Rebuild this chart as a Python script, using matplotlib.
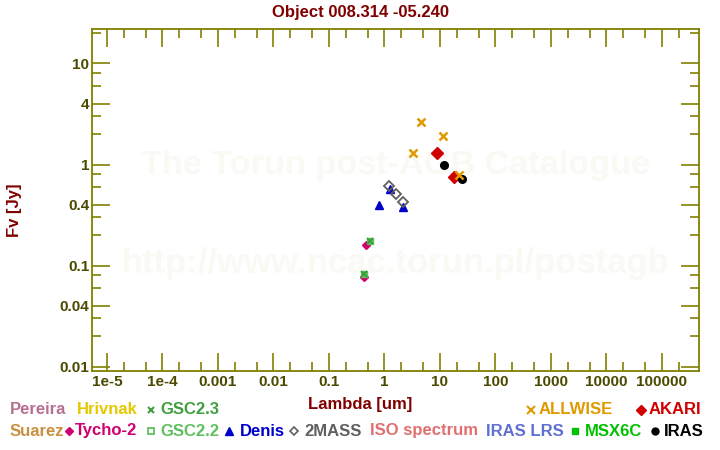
import numpy as np
import matplotlib
matplotlib.use("Agg")
import matplotlib.pyplot as plt
from matplotlib.ticker import FixedLocator, NullFormatter

plt.rcParams["font.family"] = ["Liberation Sans", "DejaVu Sans"]
plt.rcParams["font.weight"] = "bold"

# ---------------------------------------------------------------------------
# photometry (lambda in um, flux in Jy)
# ---------------------------------------------------------------------------

tycho_wl = [0.42, 0.47]
tycho_f = [0.077, 0.161]

gsc22_wl = [0.43, 0.55]
gsc22_f = [0.083, 0.175]

gsc23_wl = [0.43, 0.55]
gsc23_f = [0.083, 0.175]

denis_wl = [0.785, 1.24, 2.13]
denis_f = [0.40, 0.57, 0.38]

twomass_wl = [1.20, 1.64, 2.15]
twomass_f = [0.615, 0.509, 0.43]

allwise_wl = [3.27, 4.55, 11.3, 22.0]
allwise_f = [1.30, 2.63, 1.91, 0.785]

akari_wl = [8.8, 17.7]
akari_f = [1.30, 0.75]

iras_wl = [11.8, 24.9]
iras_f = [0.986, 0.716]

x_major = [1e-5, 1e-4, 1e-3, 1e-2, 0.1, 1, 10, 100, 1000, 1e4, 1e5]
x_labels = ["1e-5", "1e-4", "0.001", "0.01", "0.1", "1", "10", "100",
            "1000", "10000", "100000"]
y_major = [0.01, 0.04, 0.1, 0.4, 1, 4, 10]
y_labels = ["0.01", "0.04", "0.1", "0.4", "1", "4", "10"]
y_minor = [0.02, 0.03, 0.06, 0.08, 0.2, 0.3, 0.6, 0.8, 2, 3, 6, 8, 20]

AXIS_COLOR = "#808000"
TICKLABEL_COLOR = "#4a4a00"
LABEL_COLOR = "#800000"
WATERMARK = "#faf9f4"

# ---------------------------------------------------------------------------
# figure
# ---------------------------------------------------------------------------

fig = plt.figure(figsize=(7.2, 4.5), dpi=100)
ax = fig.add_axes([92 / 720, 1 - 371 / 450, 607 / 720, 342 / 450])

ax.set_xscale("log")
ax.set_yscale("log")
ax.set_xlim(10 ** -5.27, 10 ** 5.667)
ax.set_ylim(10 ** -2.043, 10 ** 1.341)

# watermark
ax.text(0.5, 0.60, "The Torun post-AGB Catalogue", transform=ax.transAxes,
        ha="center", va="center", fontsize=24.7, color=WATERMARK, zorder=0)
ax.text(0.5, 0.315, "http://www.ncac.torun.pl/postagb", transform=ax.transAxes,
        ha="center", va="center", fontsize=25, color=WATERMARK, zorder=0)

ax.plot(gsc22_wl, gsc22_f, "s", ms=5, mfc="#5cc05c", mec="#5cc05c", zorder=3)
ax.plot(gsc23_wl, gsc23_f, "x", ms=4, mec="#3a9a3a", mew=1.2, zorder=4)
ax.plot(tycho_wl, tycho_f, "D", ms=4, color="#d0006f", zorder=2)
ax.plot(denis_wl, denis_f, "^", ms=6, color="#0000cc", zorder=3)
ax.plot(twomass_wl, twomass_f, "D", ms=5, mfc="none", mec="#606060", mew=1.3, zorder=4)
ax.plot(allwise_wl, allwise_f, "x", ms=6, mec="#e09a00", mew=1.8, zorder=5)
ax.plot(akari_wl, akari_f, "D", ms=6, color="#d00000", zorder=3)
ax.plot(iras_wl, iras_f, "o", ms=5.5, color="black", zorder=4)

ax.xaxis.set_major_locator(FixedLocator(x_major))
ax.set_xticklabels(x_labels)
x_minor = [m * d for d in x_major for m in (2, 5)]
ax.xaxis.set_minor_locator(FixedLocator(x_minor))
ax.xaxis.set_minor_formatter(NullFormatter())
ax.yaxis.set_major_locator(FixedLocator(y_major))
ax.set_yticklabels(y_labels)
ax.yaxis.set_minor_locator(FixedLocator(y_minor))
ax.yaxis.set_minor_formatter(NullFormatter())

ax.tick_params(which="both", direction="in", top=True, right=True,
               color=AXIS_COLOR, width=1.2, labelcolor=TICKLABEL_COLOR,
               labelsize=11)
ax.tick_params(which="major", length=13)
ax.tick_params(which="minor", length=6.5)
ax.tick_params(axis="x", pad=3)
ax.tick_params(axis="y", pad=2)
for lab in ax.get_xticklabels() + ax.get_yticklabels():
    lab.set_fontweight("bold")
for sp in ax.spines.values():
    sp.set_color(AXIS_COLOR)
    sp.set_linewidth(1.3)

fig.text(361 / 720, 1 - 12 / 450, "Object 008.314 -05.240", ha="center",
         va="center", fontsize=12, color=LABEL_COLOR)
fig.text(360 / 720, 1 - 404 / 450, "Lambda [um]", ha="center", va="center",
         fontsize=12, color=LABEL_COLOR)
fig.text(15 / 720, 1 - 210 / 450, "Fv [Jy]", ha="center", va="center",
         rotation=90, fontsize=12, color=LABEL_COLOR)

# ---------------------------------------------------------------------------
# catalogue key below the plot (pixel coordinates)
# ---------------------------------------------------------------------------

key = fig.add_axes([0, 0, 1, 1], zorder=-1)
key.set_xlim(0, 720)
key.set_ylim(450, 0)
key.axis("off")

row1, row2 = 410, 431
key_text = [
    (10, row1, "Pereira", "#b87090"),
    (77, row1, "Hrivnak", "#e6c800"),
    (160, row1, "GSC2.3", "#40a040"),
    (539, row1, "ALLWISE", "#e09a00"),
    (649, row1, "AKARI", "#d00000"),
    (10, row2, "Suarez", "#c89040"),
    (75, row2, "Tycho-2", "#d0006f"),
    (160, row2, "GSC2.2", "#60c060"),
    (240, row2, "Denis", "#0000cc"),
    (304, row2, "2MASS", "#606060"),
    (370, row2, "ISO spectrum", "#e07070"),
    (486, row2, "IRAS LRS", "#6070d0"),
    (585, row2, "MSX6C", "#00c000"),
    (664, row2, "IRAS", "black"),
]
for x, y, s, c in key_text:
    key.text(x, y, s, ha="left", va="center", fontsize=12, color=c)

key.plot(151, row1, "x", ms=5, mec="#40a040", mew=1.5)
key.plot(530.5, row1, "x", ms=6, mec="#e09a00", mew=1.5)
key.plot(640.5, row1, "D", ms=5, color="#d00000")
key.plot(69, row2, "D", ms=4.5, color="#d0006f")
key.plot(151, row2, "s", ms=5, mfc="none", mec="#60c060", mew=1.3)
key.plot(229, row2, "^", ms=6, color="#0000cc")
key.plot(294, row2, "D", ms=4.5, mfc="none", mec="#606060", mew=1.2)
key.plot(575, row2, "s", ms=5, color="#00c000")
key.plot(655, row2, "o", ms=5, color="black")

fig.savefig("out.png", dpi=100)
